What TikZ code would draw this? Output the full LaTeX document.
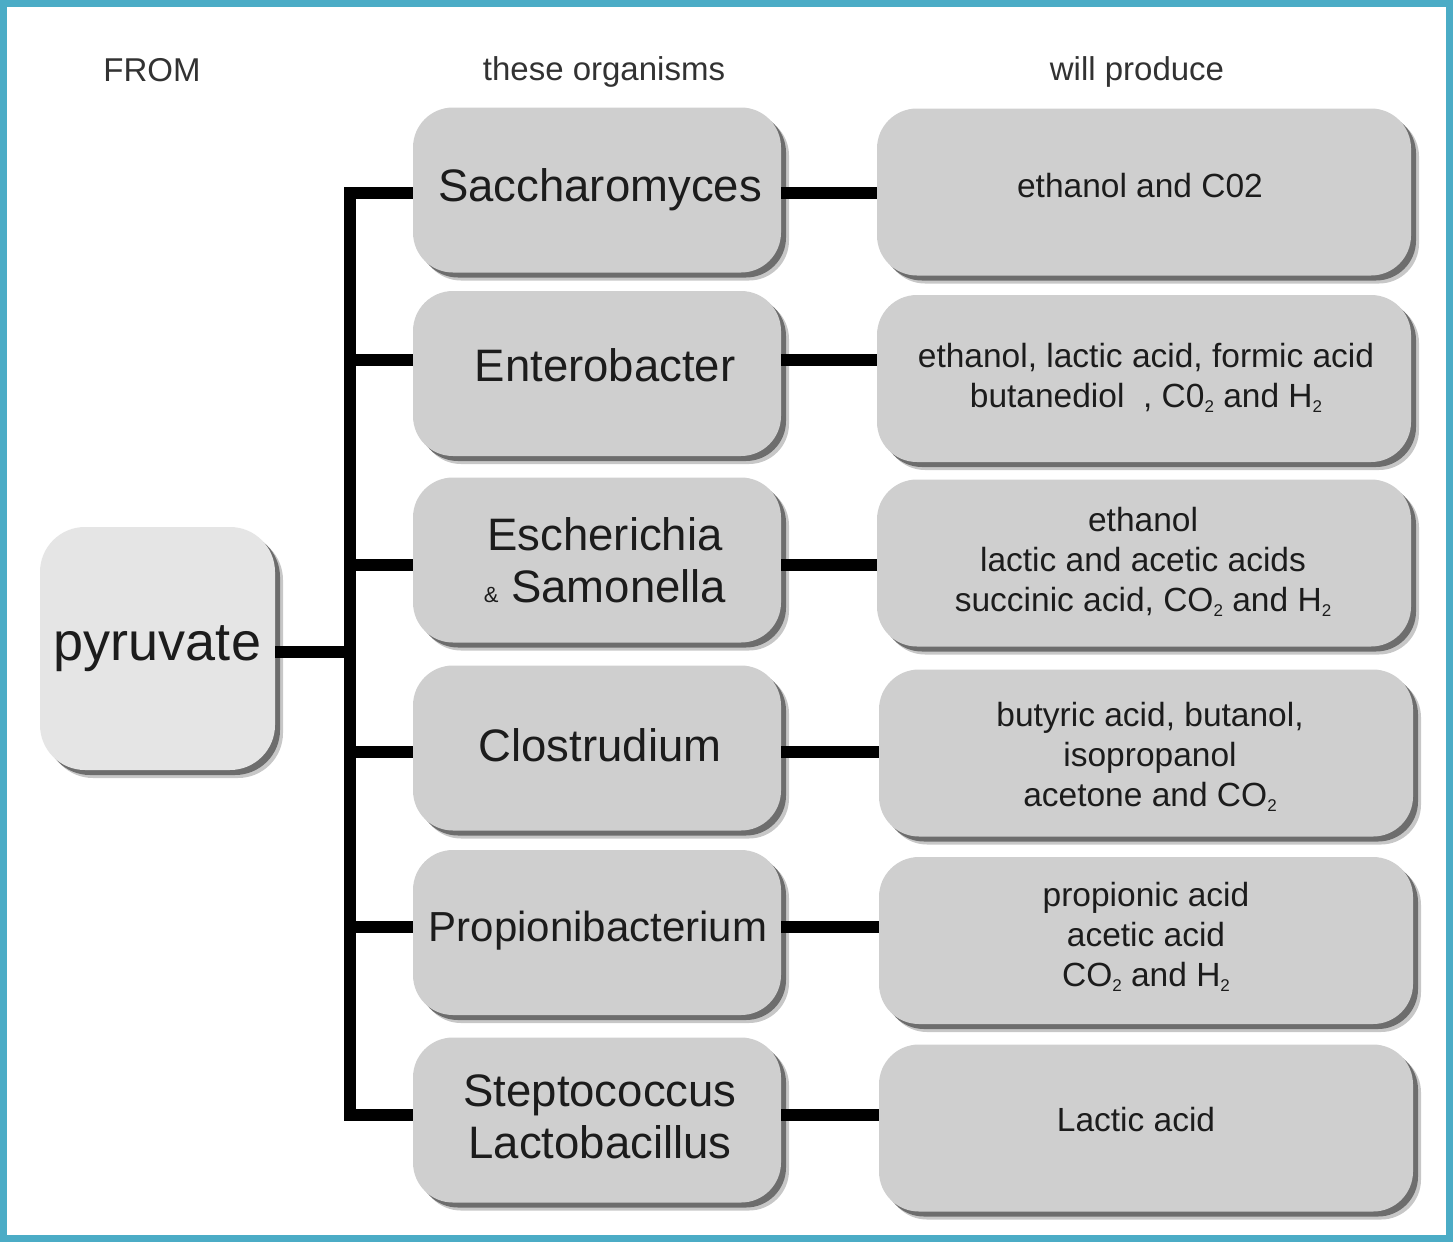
\documentclass[tikz,border=0pt]{standalone}
\usepackage{fontspec}
\setmainfont{Liberation Sans}
\usetikzlibrary{shadows}
\definecolor{boxgray}{RGB}{207,207,207}
\definecolor{pyrgray}{RGB}{229,229,229}
\definecolor{framecol}{RGB}{75,172,198}
\definecolor{ink}{RGB}{28,28,28}
\definecolor{headink}{RGB}{50,50,50}
\newcommand{\mysubtwo}{\raisebox{-5pt}{\fontsize{17}{17}\selectfont 2}}
\begin{document}
\begin{tikzpicture}[x=1pt,y=-1pt,
  shbox/.style={draw=none, fill=boxgray, rounded corners=40pt, inner sep=0pt,
    drop shadow={shadow xshift=8pt, shadow yshift=-8pt, fill=black, opacity=0.22},
    drop shadow={shadow xshift=5pt, shadow yshift=-5pt, fill=black, opacity=0.45}},
  midbox/.style={shbox, minimum width=368pt, minimum height=165pt},
  resbox/.style={shbox, minimum width=534pt, minimum height=167pt},
  pyrbox/.style={shbox, fill=pyrgray, rounded corners=45pt, minimum width=235pt, minimum height=243pt,
    font=\fontsize{54}{60}\selectfont, text=ink},
  mtext/.style={font=\fontsize{45.5}{52}\selectfont, text=ink, align=center, inner sep=0pt},
  rtext/.style={font=\fontsize{33.5}{40}\selectfont, text=ink, align=center, inner sep=0pt},
  htext/.style={font=\fontsize{33}{38}\selectfont, text=headink, inner sep=0pt},
  conn/.style={line width=12pt, black, line join=miter}]
\useasboundingbox (0,0) rectangle (1453,1242);
\fill[white] (0,0) rectangle (1453,1242);
\draw[framecol, line width=7pt] (3.5,3.5) rectangle (1449.5,1238.5);

% headers
\node[htext] (hfrom) at (152,70) {FROM};
\node[htext] (horg) at (604,72) {these organisms};
\node[htext] (hprod) at (1137,72) {will produce};

% pyruvate
\node[pyrbox] (P) at (157.5,648.5) {pyruvate};

% organism boxes
\node[midbox] (M1) at (597,190) {};
\node[midbox] (M2) at (597,373.5) {};
\node[midbox] (M3) at (597,560) {};
\node[midbox] (M4) at (597,748) {};
\node[midbox] (M5) at (597,932.5) {};
\node[midbox] (M6) at (597,1120) {};

% product boxes
\node[resbox] (R1) at (1144,192) {};
\node[resbox] (R2) at (1144,378.5) {};
\node[resbox] (R3) at (1144,563) {};
\node[resbox] (R4) at (1146,753) {};
\node[resbox] (R5) at (1146,940.5) {};
\node[resbox] (R6) at (1146,1128) {};

% organism texts
\node[mtext] (M1t) at (600,190) {Saccharomyces};
\node[mtext] (M2t) at (605,365) {Enterobacter};
\node[mtext] (M3t) at (605,560) {Escherichia\\{\fontsize{22}{22}\selectfont\&}\ Samonella};
\node[mtext] (M4t) at (600,745) {Clostrudium};
\node[mtext, font=\fontsize{42}{48}\selectfont] (M5t) at (598,931) {Propionibacterium};
\node[mtext] (M6t) at (600,1117) {Steptococcus\\Lactobacillus};

% product texts
\node[rtext] (R1t) at (1140,186) {ethanol and C02};
\node[rtext] (R2t) at (1146,378) {ethanol, lactic acid, formic acid\\butanediol\ \ , C0\mysubtwo\ and H\mysubtwo};
\node[rtext] (R3t) at (1143,562) {ethanol\\lactic and acetic acids\\succinic acid, CO\mysubtwo\ and H\mysubtwo};
\node[rtext] (R4t) at (1150,757) {butyric acid, butanol,\\isopropanol\\acetone and CO\mysubtwo};
\node[rtext] (R5t) at (1146,937) {propionic acid\\acetic acid\\CO\mysubtwo\ and H\mysubtwo};
\node[rtext] (R6t) at (1136,1120) {Lactic acid};

% trunk coordinates
\coordinate (t1) at (350,193);
\coordinate (t2) at (350,360);
\coordinate (t3) at (350,565);
\coordinate (t4) at (350,752);
\coordinate (t5) at (350,927);
\coordinate (t6) at (350,1115);
\coordinate (tp) at (350,652);

% connectors
\draw[conn] (M1.west |- t1) -- (t1) -- (t6) -- (M6.west |- t6);
\draw[conn] (t2) -- (M2.west |- t2);
\draw[conn] (t3) -- (M3.west |- t3);
\draw[conn] (t4) -- (M4.west |- t4);
\draw[conn] (t5) -- (M5.west |- t5);
\draw[conn] (P.east |- tp) -- (tp);

\draw[conn] (M1.east |- t1) -- (R1.west |- t1);
\draw[conn] (M2.east |- t2) -- (R2.west |- t2);
\draw[conn] (M3.east |- t3) -- (R3.west |- t3);
\draw[conn] (M4.east |- t4) -- (R4.west |- t4);
\draw[conn] (M5.east |- t5) -- (R5.west |- t5);
\draw[conn] (M6.east |- t6) -- (R6.west |- t6);
\end{tikzpicture}
\end{document}
